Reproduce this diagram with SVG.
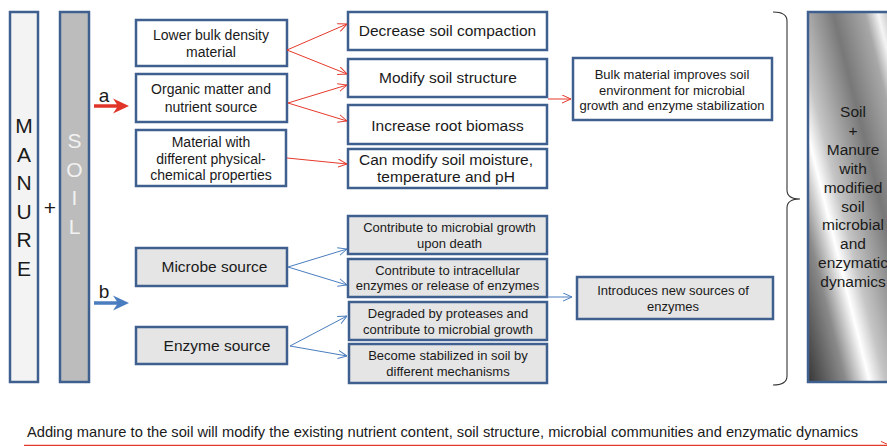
<svg xmlns="http://www.w3.org/2000/svg" width="887" height="446" viewBox="0 0 887 446">
<style>
text{font-family:"Liberation Sans",Arial,sans-serif;fill:#1a1a1a;text-anchor:middle}
.box{stroke:#3f5f8f;stroke-width:2.5}
.w{fill:#ffffff}
.g{fill:#e5e5e5}
.t14{font-size:14px}
.t13{font-size:13px}
.t15{font-size:15.5px}
.big{font-size:21px}
.red{stroke:#e5392c;stroke-width:1;fill:none}
.blue{stroke:#4a7dbf;stroke-width:1;fill:none}
</style>
<defs>
<marker id="ar" viewBox="0 0 10 10" refX="10" refY="5" markerWidth="9" markerHeight="9" orient="auto" markerUnits="userSpaceOnUse"><path d="M0,0.5 L10,5 L0,9.5" fill="none" stroke="#e5392c" stroke-width="1.1"/></marker>
<marker id="ab" viewBox="0 0 10 10" refX="10" refY="5" markerWidth="9" markerHeight="9" orient="auto" markerUnits="userSpaceOnUse"><path d="M0,0.5 L10,5 L0,9.5" fill="none" stroke="#4a7dbf" stroke-width="1.1"/></marker>
<linearGradient id="metal" gradientUnits="userSpaceOnUse" x1="808" y1="382" x2="969.4" y2="341.6">
<stop offset="0" stop-color="#363636"/>
<stop offset="0.22" stop-color="#8a8a8a"/>
<stop offset="0.36" stop-color="#ffffff"/>
<stop offset="0.45" stop-color="#c6c6c6"/>
<stop offset="0.685" stop-color="#787878"/>
<stop offset="0.87" stop-color="#a8a8a8"/>
<stop offset="0.946" stop-color="#f5f5f5"/>
<stop offset="1" stop-color="#cccccc"/>
</linearGradient>
</defs>
<rect width="887" height="446" fill="#ffffff"/>

<g id="manure">
<rect class="box" x="10" y="12" width="28" height="370" fill="#f3f3f3"/>
<text class="big" x="24" y="133">M</text>
<text class="big" x="24" y="162">A</text>
<text class="big" x="24" y="190">N</text>
<text class="big" x="24" y="219">U</text>
<text class="big" x="24" y="247">R</text>
<text class="big" x="24" y="276">E</text>
</g>
<g id="plus"><text class="big" x="50" y="215">+</text></g>
<g id="soil">
<rect class="box" x="60" y="12" width="29" height="370" fill="#bcbcbc"/>
<text class="big" x="74.5" y="148" style="fill:#f2f2f2">S</text>
<text class="big" x="74.5" y="177" style="fill:#f2f2f2">O</text>
<text class="big" x="74.5" y="205" style="fill:#f2f2f2">I</text>
<text class="big" x="74.5" y="234" style="fill:#f2f2f2">L</text>
</g>

<g id="path-a">
<text x="104" y="102" style="font-size:19px">a</text>
<line x1="94" y1="106" x2="120" y2="106" stroke="#e03428" stroke-width="3.5"/>
<polygon points="129,106 113,98.5 118,106 113,113.5" fill="#e03428"/>
</g>
<g id="path-b">
<text x="104" y="298" style="font-size:19px">b</text>
<line x1="94" y1="303" x2="120" y2="303" stroke="#4a7dbf" stroke-width="3.5"/>
<polygon points="129,303 113,295.5 118,303 113,310.5" fill="#4a7dbf"/>
</g>

<g id="lower-bulk">
<rect class="box w" x="136" y="20" width="151" height="46"/>
<text class="t14" x="211" y="40">Lower bulk density</text>
<text class="t14" x="211" y="56.5">material</text>
</g>
<g id="organic">
<rect class="box w" x="136" y="74" width="151" height="48"/>
<text class="t14" x="211" y="94">Organic matter and</text>
<text class="t14" x="211" y="112">nutrient source</text>
</g>
<g id="material">
<rect class="box w" x="136" y="130" width="150" height="56"/>
<text class="t14" x="211" y="147">Material with</text>
<text class="t14" x="211" y="163.5">different physical-</text>
<text class="t14" x="211" y="180">chemical properties</text>
</g>

<g id="decrease">
<rect class="box w" x="348" y="12" width="199" height="38"/>
<text class="t15" x="447.5" y="36">Decrease soil compaction</text>
</g>
<g id="modify">
<rect class="box w" x="348" y="59" width="199" height="38"/>
<text class="t15" x="448" y="83">Modify soil structure</text>
</g>
<g id="increase">
<rect class="box w" x="348" y="105" width="199" height="39"/>
<text class="t15" x="447.5" y="130.5">Increase root biomass</text>
</g>
<g id="moisture">
<rect class="box w" x="348" y="149" width="199" height="39"/>
<text class="t15" x="446" y="164.5">Can modify soil moisture,</text>
<text class="t15" x="446" y="182">temperature and pH</text>
</g>
<g id="bulk-improves">
<rect class="box w" x="573" y="58" width="199" height="62"/>
<text class="t13" x="672" y="78.5">Bulk material improves soil</text>
<text class="t13" x="672" y="94.5">environment for microbial</text>
<text class="t13" x="672" y="110">growth and enzyme stabilization</text>
</g>

<g id="microbe">
<rect class="box g" x="136" y="248" width="151" height="38"/>
<text class="t15" x="214.5" y="272">Microbe source</text>
</g>
<g id="enzyme">
<rect class="box g" x="136" y="327" width="151" height="37"/>
<text class="t15" x="217" y="351">Enzyme source</text>
</g>
<g id="growth-death">
<rect class="box g" x="348" y="216" width="199" height="38"/>
<text class="t13" x="449.5" y="231.5">Contribute to microbial growth</text>
<text class="t13" x="449.5" y="248">upon death</text>
</g>
<g id="intracellular">
<rect class="box g" x="348" y="259" width="199" height="38"/>
<text class="t13" x="447.5" y="274.5">Contribute to intracellular</text>
<text class="t13" x="447.5" y="290">enzymes or release of enzymes</text>
</g>
<g id="degraded">
<rect class="box g" x="349" y="302" width="198" height="38"/>
<text class="t13" x="448" y="318">Degraded by proteases and</text>
<text class="t13" x="448" y="334">contribute to microbial growth</text>
</g>
<g id="stabilized">
<rect class="box g" x="349" y="344" width="198" height="39"/>
<text class="t13" x="448" y="359.5">Become stabilized in soil by</text>
<text class="t13" x="448" y="375.5">different mechanisms</text>
</g>
<g id="new-sources">
<rect class="box g" x="577" y="277" width="196" height="42"/>
<text class="t13" x="673" y="294.5">Introduces new sources of</text>
<text class="t13" x="673" y="311">enzymes</text>
</g>

<g id="result">
<rect class="box" x="808" y="12" width="92" height="370" fill="url(#metal)"/>
<g style="font-size:15.5px">
<text x="853" y="117">Soil</text>
<text x="853" y="136">+</text>
<text x="853" y="155">Manure</text>
<text x="853" y="174">with</text>
<text x="853" y="193">modified</text>
<text x="853" y="211.5">soil</text>
<text x="853" y="230">microbial</text>
<text x="853" y="249">and</text>
<text x="853" y="268">enzymatic</text>
<text x="853" y="287">dynamics</text>
</g>
</g>

<g id="brace">
<path d="M773,12 Q787,12 787,21 L787,190 Q787,199 800,199 Q787,199 787,208 L787,376 Q787,385 773,385" fill="none" stroke="#333333" stroke-width="1.1"/>
</g>

<g id="connectors">
<line class="red" x1="287" y1="50" x2="347" y2="24" marker-end="url(#ar)"/>
<line class="red" x1="287" y1="50" x2="347" y2="74" marker-end="url(#ar)"/>
<line class="red" x1="288" y1="103" x2="347" y2="85" marker-end="url(#ar)"/>
<line class="red" x1="288" y1="103" x2="347" y2="121" marker-end="url(#ar)"/>
<line class="red" x1="287" y1="158" x2="347" y2="164" marker-end="url(#ar)"/>
<line class="red" x1="548" y1="99" x2="571" y2="99" marker-end="url(#ar)"/>
<line class="blue" x1="288" y1="267" x2="347" y2="249" marker-end="url(#ab)"/>
<line class="blue" x1="288" y1="267" x2="347" y2="285" marker-end="url(#ab)"/>
<line class="blue" x1="290" y1="346" x2="347" y2="316" marker-end="url(#ab)"/>
<line class="blue" x1="290" y1="346" x2="347" y2="356" marker-end="url(#ab)"/>
<line class="blue" x1="548" y1="297" x2="572" y2="297" marker-end="url(#ab)"/>
<line x1="24" y1="445.5" x2="890" y2="445.5" stroke="#e5392c" stroke-width="1.3" marker-end="url(#ar)"/>
</g>

<g id="summary">
<text x="27" y="437" textLength="831" lengthAdjust="spacingAndGlyphs" style="text-anchor:start;font-size:14.6px">Adding manure to the soil will modify the existing nutrient content, soil structure, microbial communities and enzymatic dynamics</text>
</g>
</svg>
